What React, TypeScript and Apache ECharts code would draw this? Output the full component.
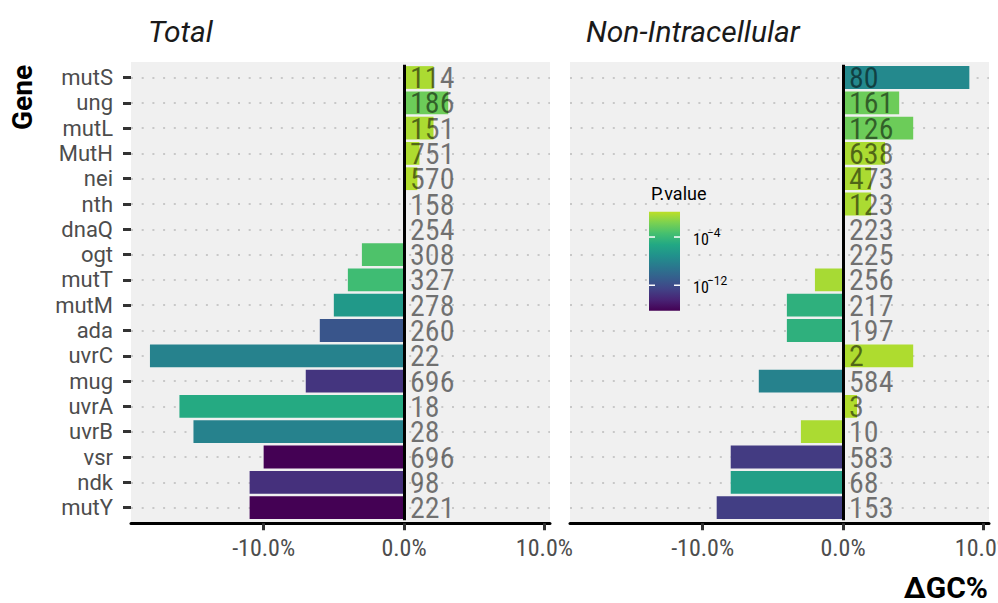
import React, { useEffect, useRef } from "react";
import * as echarts from "echarts";

// ---------- data ----------
const genes = ["mutS", "ung", "mutL", "MutH", "nei", "nth", "dnaQ", "ogt", "mutT", "mutM", "ada", "uvrC", "mug", "uvrA", "uvrB", "vsr", "ndk", "mutY"];

// Total panel
const totalGC = [2.1, 3.15, 2.1, 1.1, 0.95, 0, 0, -3, -4, -5, -6, -18.1, -7, -16, -15, -10, -11, -11];
const totalLogP = [-0.3, -2.1, -0.3, -0.2, -0.1, -0.5, -0.5, -3.1, -3.7, -6.5, -11.4, -8.2, -13.4, -5.1, -8.2, -16.2, -13.7, -16.2];
const totalCounts = [114, 186, 151, 751, 570, 158, 254, 308, 327, 278, 260, 22, 696, 18, 28, 696, 98, 221];

// Non-Intracellular panel
const nonIntraGC = [9, 4, 5, 3, 2, 2, 0, 0, -2, -4, -4, 5, -6, 1, -3, -8, -8, -9];
const nonIntraLogP = [-7.7, -2.1, -2.1, -0.3, -0.3, -0.3, -0.5, -0.5, -0.4, -4.6, -4.6, -0.2, -8.2, -0.1, -0.3, -13.1, -6.0, -12.9];
const nonIntraCounts = [80, 161, 126, 638, 473, 123, 223, 225, 256, 217, 197, 2, 584, 3, 10, 583, 68, 153];

const panelTitles = ["Total", "Non-Intracellular"];
const xTicks = [-10, 0, 10];
const legendTicks = [-4, -12];

// colour scale (log10 p-value)
const P_MIN = -16.22;
const P_MAX = 0.2;
const viridis = ["#440154", "#482475", "#414487", "#355f8d", "#2a788e", "#21918c", "#22a884", "#44bf70", "#7ad151", "#bddf26"];

// ---------- style ----------
const NARROW = "'Liberation Sans Narrow', 'Arial Narrow', 'Roboto Condensed', Roboto, sans-serif";
const SANS = "Roboto, 'Noto Sans', sans-serif";
const GRID_TOP = 64.85;
const BAND = 25.3;
const GRID_H = BAND * genes.length;
const PANEL_W = 419;
const PANEL_LEFTS = [131, 570];
const X_MIN = -19.45;
const X_MAX = 10.4;

const CB = { x: 649, y: 211.7, w: 31, h: 99 };

export default function App() {
  const ref = useRef<HTMLDivElement>(null);

  useEffect(() => {
    if (!ref.current) return;
    const chart = echarts.init(ref.current, null, { renderer: "svg" });

    const panels = [
      { gc: totalGC, lp: totalLogP, n: totalCounts },
      { gc: nonIntraGC, lp: nonIntraLogP, n: nonIntraCounts },
    ];

    const series: any[] = [];
    panels.forEach((p, i) => {
      series.push({
        type: "bar",
        xAxisIndex: i,
        yAxisIndex: i,
        barWidth: "90%",
        encode: { x: 0, y: 1 },
        z: 2,
        itemStyle: { borderWidth: 0 },
        data: genes.map((g, k) => [p.gc[k], k, p.lp[k]]),
        markLine: {
          silent: true,
          symbol: "none",
          z: 1,
          label: { show: false },
          lineStyle: { color: "#c8c8c8", width: 2, type: [2, 8.7] },
          data: genes.map((g) => ({ yAxis: g })),
        },
      });
      series.push({
        type: "scatter",
        xAxisIndex: i,
        yAxisIndex: i,
        symbolSize: 1,
        itemStyle: { color: "rgba(0,0,0,0)" },
        z: 10,
        data: genes.map((g, k) => [0, k, p.n[k]]),
        label: {
          show: true,
          position: "right",
          distance: 5.5,
          formatter: (q: any) => String(q.value[2]),
          fontFamily: NARROW,
          fontSize: 30,
          color: "rgba(0,0,0,0.66)",
        },
        markLine: {
          silent: true,
          symbol: "none",
          z: 8,
          label: { show: false },
          lineStyle: { color: "#000", width: 3, type: "solid" },
          data: [{ xAxis: 0 }],
        },
      });
    });

    const cbY = (v: number) => CB.y + CB.h - ((v - P_MIN) / (P_MAX - P_MIN)) * CB.h;

    const graphic: any[] = [];
    PANEL_LEFTS.forEach((l) => {
      graphic.push({
        type: "rect",
        z: -10,
        silent: true,
        shape: { x: l, y: 62, width: PANEL_W, height: 461 },
        style: { fill: "#f0f0f0" },
      });
    });
    graphic.push(
      { type: "text", x: 148, y: 31, style: { text: panelTitles[0], font: `italic 30px ${SANS}`, fill: "#1a1a1a", verticalAlign: "middle" } },
      { type: "text", x: 586, y: 31, style: { text: panelTitles[1], font: `italic 30px ${SANS}`, fill: "#1a1a1a", verticalAlign: "middle" } },
      { type: "text", x: 22, y: 130, rotation: Math.PI / 2, style: { text: "Gene", font: `bold 28px ${SANS}`, fill: "#000", align: "left", verticalAlign: "middle" } },
      { type: "text", x: 988, y: 587, style: { text: "ΔGC%", font: `bold 30px ${SANS}`, fill: "#000", align: "right", verticalAlign: "middle" } },
      { type: "text", z: 50, x: 651, y: 193, style: { text: "P.value", font: `18px ${SANS}`, fill: "#000", verticalAlign: "middle" } },
      {
        type: "rect",
        z: 50,
        shape: { x: CB.x, y: CB.y, width: CB.w, height: CB.h },
        style: {
          fill: new echarts.graphic.LinearGradient(
            0, 0, 0, 1,
            viridis.slice().reverse().map((c, k) => ({ offset: k / (viridis.length - 1), color: c }))
          ),
        },
      }
    );
    legendTicks.forEach((t) => {
      const y = cbY(t);
      graphic.push(
        { type: "line", z: 51, shape: { x1: CB.x, y1: y, x2: CB.x + 6, y2: y }, style: { stroke: "#fff", lineWidth: 1.5 } },
        { type: "line", z: 51, shape: { x1: CB.x + CB.w - 6, y1: y, x2: CB.x + CB.w, y2: y }, style: { stroke: "#fff", lineWidth: 1.5 } },
        { type: "text", z: 51, x: 693, y: y + 2.5, style: { text: "10", font: `16px ${NARROW}`, fill: "#000", verticalAlign: "middle" } },
        { type: "text", z: 51, x: 707, y: y - 4, style: { text: "\u2212" + String(-t), font: `12px ${SANS}`, fill: "#000", verticalAlign: "middle" } }
      );
    });

    const option: any = {
      animation: false,
      backgroundColor: "#ffffff",
      grid: PANEL_LEFTS.map((l) => ({
        left: l,
        top: GRID_TOP,
        width: PANEL_W,
        height: GRID_H,
        containLabel: false,
        outerBoundsMode: "none",
      })),
      xAxis: [0, 1].map((i) => ({
        type: "value",
        gridIndex: i,
        min: X_MIN,
        max: X_MAX,
        offset: 3,
        axisLine: { show: true, onZero: false, lineStyle: { color: "#000", width: 3 } },
        axisTick: { show: true, customValues: xTicks, length: 7, lineStyle: { color: "#333", width: 3 } },
        axisLabel: {
          customValues: xTicks,
          formatter: (v: number) => v.toFixed(1) + "%",
          color: "#4d4d4d",
          fontFamily: NARROW,
          fontSize: 24,
          margin: 13,
        },
        splitLine: { show: false },
      })),
      yAxis: [0, 1].map((i) => ({
        type: "category",
        gridIndex: i,
        data: genes,
        inverse: true,
        axisLine: { show: false, onZero: false },
        axisTick: { show: i === 0, alignWithLabel: true, interval: 0, length: 8, lineStyle: { color: "#333", width: 3 } },
        axisLabel: { show: i === 0, interval: 0, color: "#4d4d4d", fontFamily: SANS, fontSize: 22, margin: 18 },
        splitLine: { show: false },
      })),
      visualMap: {
        type: "continuous",
        show: false,
        min: P_MIN,
        max: P_MAX,
        dimension: 2,
        seriesIndex: [0, 2],
        inRange: { color: viridis },
      },
      graphic,
      series,
    };

    chart.setOption(option);
    return () => chart.dispose();
  }, []);

  return <div ref={ref} style={{ position: "fixed", left: 0, top: 0, width: 998, height: 603 }} />;
}
